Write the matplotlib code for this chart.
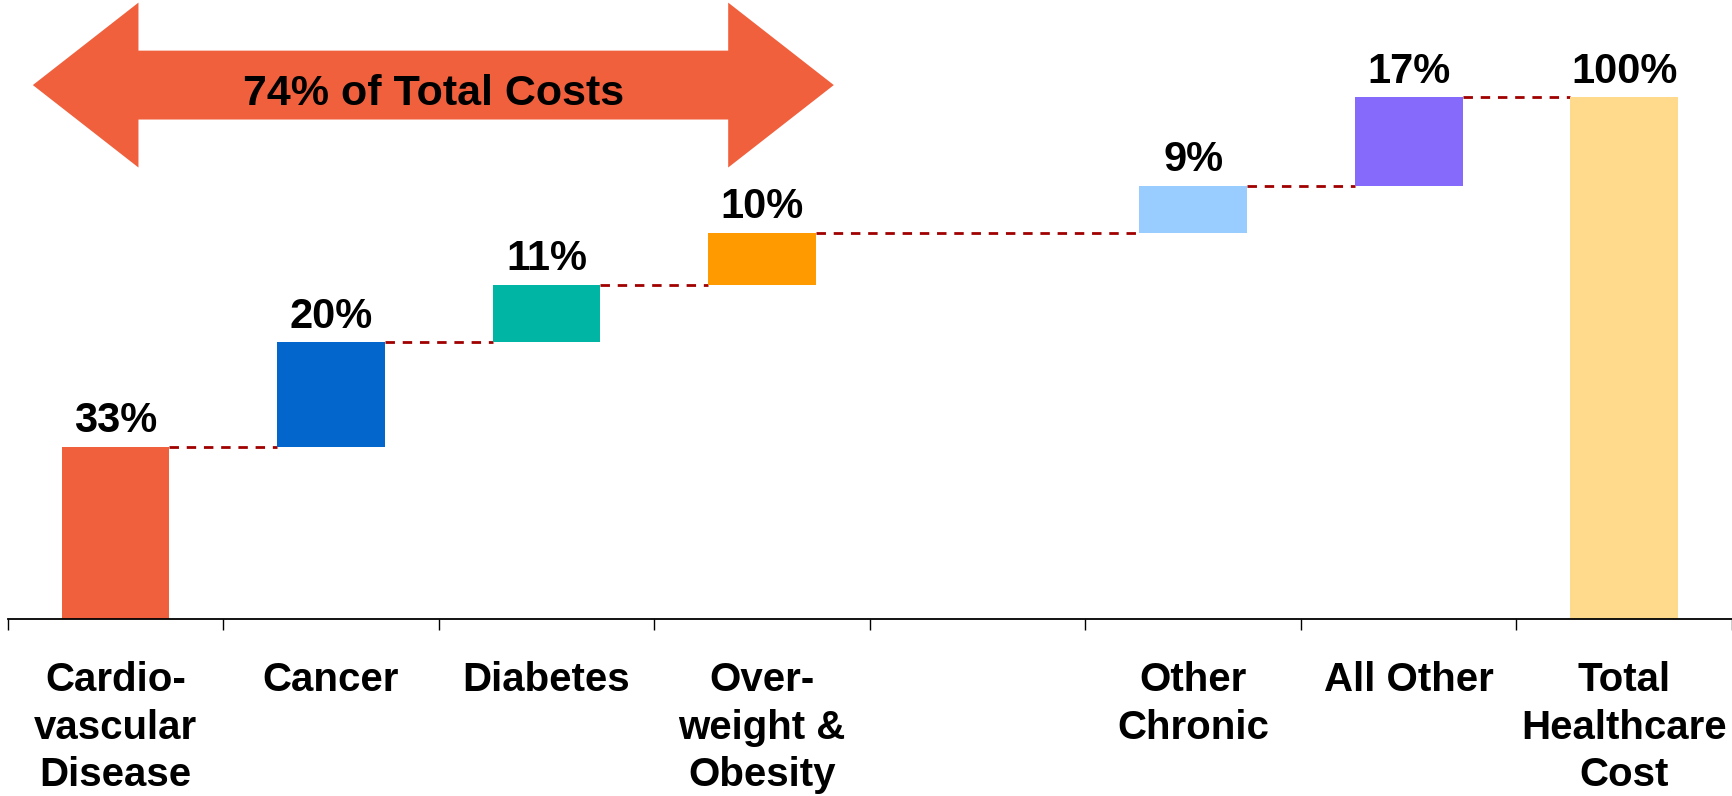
import numpy as np
import matplotlib.pyplot as plt
from matplotlib.patches import Polygon

plt.rcParams['font.family'] = ['Liberation Sans', 'DejaVu Sans']
plt.rcParams['font.weight'] = 'bold'

# Waterfall data: share of total healthcare cost (%)
categories = ['Cardio-\nvascular\nDisease', 'Cancer', 'Diabetes',
              'Over-\nweight &\nObesity', '', 'Other\nChronic',
              'All Other', 'Total\nHealthcare\nCost']
shares = [33, 20, 11, 10, None, 9, 17, 100]
colors = ['#F0603D', '#0366CC', '#00B5A3', '#FF9A00', None,
          '#99CCFF', '#856AFB', '#FFD98C']
arrow_label = '74% of Total Costs'
arrow_span = (0, 3)   # first and last category covered by the arrow

BAR_W = 0.5
DASH_COLOR = '#A00000'

fig = plt.figure(figsize=(17.33, 7.96), dpi=100)
ax = fig.add_axes([0.0044, 0.2224, 0.995, 0.7776])

# build the waterfall: each step starts where the previous one ended
bottoms, tops = [], []
running = 0
for i, v in enumerate(shares):
    if v is None:
        bottoms.append(None)
        tops.append(None)
        continue
    if i == len(shares) - 1:
        b = 0
    else:
        b = running
        running += v
    bottoms.append(b)
    tops.append(b + v)
    ax.bar(i, v, bottom=b, width=BAR_W, color=colors[i], zorder=2)
    ax.annotate(f'{v}%', (i, b + v), xytext=(0, 4), textcoords='offset points',
                ha='center', va='bottom', fontsize=30, fontweight='bold')

# dashed connectors between consecutive steps
idx = [i for i, v in enumerate(shares) if v is not None]
for a, b in zip(idx[:-1], idx[1:]):
    level = tops[a]
    ax.plot([a + BAR_W / 2, b - BAR_W / 2], [level, level],
            color=DASH_COLOR, lw=2.0, dashes=(3.4, 2.8), zorder=1)

# double-headed arrow over the chronic-disease group
x0 = arrow_span[0] - BAR_W / 2 - 0.133
x1 = arrow_span[1] + BAR_W / 2 + 0.083
yc = 102.3
head_len = 0.49
head_w = 31.6
shaft_w = 13.2
verts = [
    (x0, yc),
    (x0 + head_len, yc + head_w / 2),
    (x0 + head_len, yc + shaft_w / 2),
    (x1 - head_len, yc + shaft_w / 2),
    (x1 - head_len, yc + head_w / 2),
    (x1, yc),
    (x1 - head_len, yc - head_w / 2),
    (x1 - head_len, yc - shaft_w / 2),
    (x0 + head_len, yc - shaft_w / 2),
    (x0 + head_len, yc - head_w / 2),
]
ax.add_patch(Polygon(verts, closed=True, facecolor=colors[0],
                     edgecolor='none', zorder=3))
ax.text((x0 + x1) / 2, yc - 1.8, arrow_label, ha='center', va='center',
        fontsize=31, fontweight='bold', zorder=4)

# axes styling
n = len(categories)
ax.set_xlim(-0.5, n - 0.5)
ax.set_ylim(0, 118.6)
for s in ['top', 'right', 'left']:
    ax.spines[s].set_visible(False)
ax.spines['bottom'].set_linewidth(1.3)
ax.set_yticks([])

ax.set_xticks(np.arange(-0.5, n, 1.0))
ax.set_xticklabels([])
ax.tick_params(axis='x', which='major', length=8, width=1.0, direction='out')
ax.set_xticks(np.arange(n), minor=True)
ax.set_xticklabels(categories, minor=True, fontsize=29, fontweight='bold',
                   linespacing=1.33)
ax.tick_params(axis='x', which='minor', length=0, pad=30)

fig.savefig('out.png', dpi=100)
